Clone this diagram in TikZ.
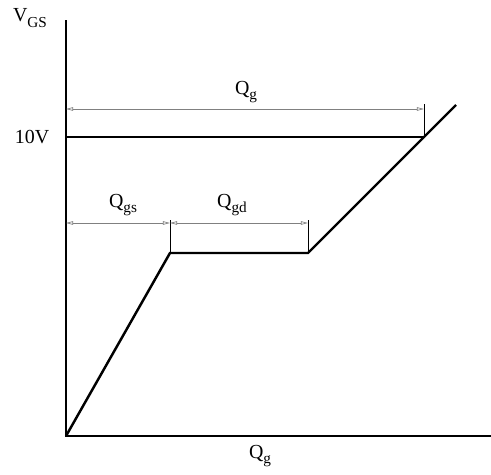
\documentclass[tikz,border=0pt]{standalone}
\usepackage{fontspec}
\setmainfont{Liberation Serif}
\usetikzlibrary{arrows.meta}
\newcommand{\lowsub}[1]{\lower4.5pt\hbox{\fontsize{13}{13}\selectfont #1}}
\tikzset{
  axis/.style={line width=2.4pt},
  curve/.style={line width=2.1pt},
  level/.style={line width=2.1pt},
  dimline/.style={gray, line width=0.6pt,
    {Triangle[open,length=6pt,width=3pt]}-{Triangle[open,length=6pt,width=3pt]}},
  extline/.style={line width=0.6pt},
  lbl/.style={font=\fontsize{17}{19}\selectfont, inner sep=1pt}
}
\begin{document}
\begin{tikzpicture}[x=0.03cm,y=-0.03cm]
        \useasboundingbox (0,0) rectangle (491,475);
        % points
        \coordinate (O) at (66,436);
        \coordinate (ytop) at (66,20);
        \coordinate (xend) at (491,436);
        \coordinate (tenL) at (66,137);
        \coordinate (A) at (170,253);
        \coordinate (B) at (308,253);
        \coordinate (C) at (424,137);
        \coordinate (D) at (456,105);
        \coordinate (Aup) at (170,220);
        \coordinate (Bup) at (308,220);
        \coordinate (Cup) at (424,104);
        \coordinate (gsL) at (66,223);
        \coordinate (gsR) at (170,223);
        \coordinate (gdR) at (308,223);
        \coordinate (gL) at (66,109);
        \coordinate (gR) at (424,109);

        % axes
        \draw[axis] (ytop) -- (O) -- (xend);
        \draw[level] (tenL) -- (C);
        \draw[curve] (O) -- (A) -- (B) -- (D);

        % dimensions
        \draw[extline] (A) -- (Aup);
        \draw[extline] (B) -- (Bup);
        \draw[extline] (C) -- (Cup);
        \draw[dimline] (gsL) -- (gsR);
        \draw[dimline] (gsR) -- (gdR);
        \draw[dimline] (gL) -- (gR);

        % labels
        \node[lbl] (vgs) at (30,18) {V\lowsub{GS}};
        \node[lbl] (ten) at (32,137) {10V};
        \node[lbl] (qgtop) at (246,92) {Q\lowsub{g}};
        \node[lbl] (qgs) at (123,205) {Q\lowsub{gs}};
        \node[lbl] (qgd) at (232,205) {Q\lowsub{gd}};
        \node[lbl] (qgbot) at (260,456) {Q\lowsub{g}};
\end{tikzpicture}
\end{document}
